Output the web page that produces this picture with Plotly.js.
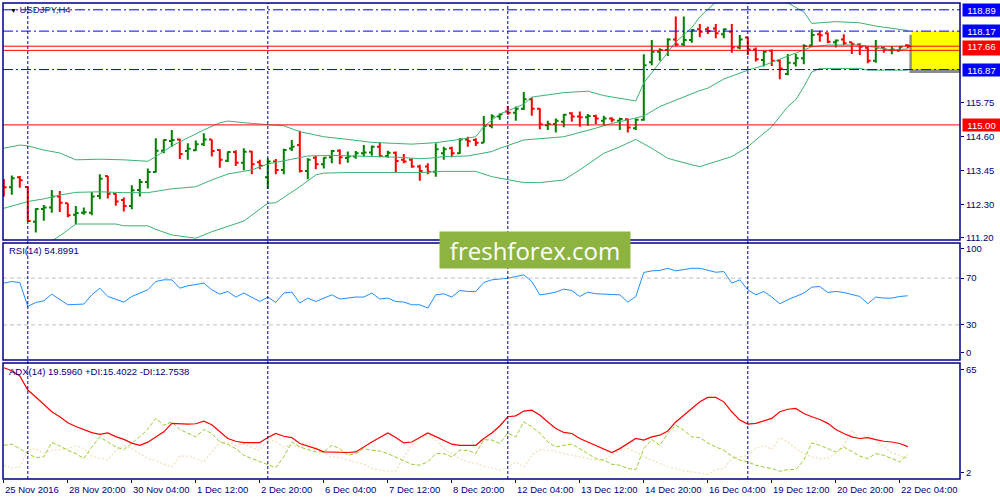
<!DOCTYPE html>
<html>
<head>
<meta charset="utf-8">
<script src="https://cdn.plot.ly/plotly-3.0.1.min.js"></script>
<style>
  html, body { margin: 0; padding: 0; background: #fff; }
  #chart { width: 1000px; height: 500px; }
</style>
</head>
<body>
<div id="chart"></div>
<script>
// USDJPY H4 bars (bar 0 = 25 Nov 2016 12:00)
const opens  = [113.11,112.89,113.23,112.90,111.73,112.16,112.21,112.58,112.35,111.96,
                112.03,112.03,112.60,113.27,112.67,112.46,112.26,112.80,113.07,113.41,
                114.13,114.46,114.51,114.12,114.14,114.35,114.51,114.15,113.79,114.08,
                113.72,114.10,113.74,113.23,113.76,113.48,114.20,114.32,113.44,113.89,
                113.67,113.91,114.13,113.88,113.93,114.04,114.07,114.26,113.95,114.06,
                113.82,113.82,113.59,113.59,113.42,114.04,114.21,114.04,114.51,114.49,
                114.40,114.96,115.28,115.45,115.41,115.55,115.87,115.55,114.99,115.03,
                115.11,115.39,115.28,115.26,115.30,115.14,115.22,115.14,115.19,114.89,
                115.17,117.12,117.47,117.53,117.89,117.73,117.87,118.23,118.23,118.26,
                118.06,118.15,117.62,117.95,117.55,117.19,117.51,117.17,116.72,117.08,
                117.25,117.68,118.06,118.10,117.79,117.89,117.79,117.72,117.61,117.17,
                117.61,117.53,117.51,117.69];
const highs  = [113.17,113.29,113.27,112.92,112.18,112.29,112.80,112.77,112.35,112.26,
                112.21,112.73,113.33,113.27,112.69,112.55,112.96,113.17,113.53,114.55,
                114.51,114.83,114.53,114.38,114.47,114.72,114.51,114.18,114.10,114.14,
                114.21,114.12,113.82,113.87,113.85,114.19,114.49,114.80,113.87,113.95,
                113.91,114.15,114.18,114.10,114.12,114.32,114.30,114.41,114.13,114.10,
                114.02,113.87,113.65,113.70,114.38,114.26,114.26,114.55,114.60,114.55,
                115.30,115.36,115.39,115.64,115.62,116.11,115.93,115.56,115.14,115.22,
                115.37,115.43,115.45,115.37,115.34,115.31,115.26,115.24,115.22,115.22,
                117.39,117.87,117.59,117.93,118.66,118.66,118.23,118.41,118.32,118.41,
                118.26,118.41,118.04,117.96,117.62,117.51,117.55,117.22,117.40,117.40,
                117.73,118.23,118.18,118.12,117.89,118.06,117.79,117.76,117.64,117.87,
                117.64,117.67,117.67,117.73];
const lows   = [112.58,112.64,112.88,111.73,111.36,111.76,112.03,112.06,111.88,111.64,
                111.96,111.95,112.49,112.51,112.27,112.07,112.15,112.58,112.85,113.39,
                114.04,114.26,113.85,113.82,114.12,114.29,113.93,113.55,113.75,113.61,
                113.47,113.33,113.50,112.83,113.33,113.33,114.12,113.39,113.16,113.50,
                113.53,113.70,113.67,113.72,113.86,113.93,113.96,113.91,113.89,113.41,
                113.70,113.55,113.11,113.33,113.25,113.82,113.91,114.02,114.26,114.29,
                114.40,114.89,115.17,115.34,115.14,115.50,115.31,114.85,114.83,114.74,
                114.92,115.11,114.94,114.97,115.03,114.99,115.09,114.83,114.74,114.83,
                115.14,117.02,117.17,117.33,117.67,117.67,117.78,117.96,118.07,117.93,
                117.93,117.44,117.56,117.36,117.14,116.97,116.99,116.54,116.68,116.97,
                117.05,117.64,117.81,117.76,117.62,117.70,117.40,117.36,117.08,117.10,
                117.44,117.39,117.50,117.59];
const closes = [112.89,113.20,113.13,111.75,112.16,112.21,112.58,112.37,111.95,112.02,
                112.05,112.58,113.18,112.67,112.41,112.26,112.79,113.07,113.41,114.13,
                114.49,114.49,114.02,114.19,114.35,114.51,114.12,113.82,114.08,113.72,
                114.09,113.67,113.62,113.76,113.48,114.15,114.26,113.44,113.82,113.67,
                113.89,114.12,113.91,113.93,114.04,114.07,114.26,113.95,114.06,113.78,
                113.76,113.59,113.44,113.42,114.18,114.18,114.04,114.51,114.45,114.40,
                114.96,115.28,115.36,115.41,115.55,115.87,115.55,115.02,115.03,115.14,
                115.34,115.28,115.26,115.30,115.22,115.22,115.17,115.20,114.91,115.17,
                117.02,117.47,117.53,117.89,117.72,117.87,118.21,118.15,118.17,118.10,
                118.23,117.62,117.89,117.55,117.22,117.47,117.17,116.91,117.10,117.25,
                117.67,118.04,118.03,117.81,117.85,117.76,117.73,117.64,117.17,117.61,
                117.55,117.55,117.64,117.66];

// Bollinger bands (20): bar index / price at the visible vertices
const bbUpIdx  = [0,2,3,5,7,9,12,15,18,19,21,25,27,28,31,33,35,37,40,43,46,51,54,57,59,
                  60,62,65,66,70,73,75,77,79,80,82,84,86,87,89,90,91,92,93,94,95,96,97,98,
                  100,101,104,107,109,112,113];
const bbUpVal  = [114.21,114.32,114.29,114.15,114.05,113.82,113.84,113.82,113.77,113.93,
                  114.29,114.83,115.07,115.13,115.05,115.01,114.97,114.77,114.60,114.51,
                  114.41,114.35,114.40,114.51,114.60,114.94,115.37,115.70,115.94,116.09,
                  116.14,115.99,115.90,115.81,116.42,117.13,117.80,118.29,118.65,119.15,
                  119.23,119.36,119.43,119.44,119.35,119.25,119.20,119.16,119.12,118.82,
                  118.43,118.49,118.45,118.34,118.21,118.19];
const bbMidIdx = [0,3,5,7,9,12,15,18,21,24,26,28,31,33,36,38,41,45,49,52,53,55,58,61,62,
                  65,70,74,76,78,80,82,85,87,88,90,93,95,97,100,101,103,107,109,111,113];
const bbMidVal = [112.18,112.41,112.50,112.63,112.72,112.74,112.71,112.71,112.84,112.91,
                  113.14,113.34,113.48,113.68,113.84,113.95,113.97,113.95,113.91,113.86,
                  113.87,113.93,113.95,114.10,114.21,114.49,114.60,114.89,115.05,115.17,
                  115.30,115.62,115.95,116.16,116.24,116.55,116.85,117.01,117.22,117.53,
                  117.64,117.70,117.70,117.62,117.53,117.57];
const bbLowIdx = [0,3,6,7,9,14,15,18,19,21,24,26,30,33,34,37,39,40,43,52,55,59,61,65,67,
                  70,72,75,77,79,81,83,86,87,91,93,94,96,98,99,100,101,102,107,108,113];
const bbLowVal = [110.72,110.84,111.08,111.25,111.65,111.65,111.59,111.59,111.47,111.28,
                  111.17,111.39,111.75,112.35,112.37,112.91,113.31,113.37,113.39,113.39,
                  113.43,113.43,113.25,113.05,113.05,113.14,113.48,114.04,114.26,114.51,
                  114.21,113.87,113.65,113.59,113.93,114.26,114.49,114.94,115.62,115.85,
                  116.29,116.79,116.91,116.91,116.85,116.85];

// RSI(14), ADX(14), +DI, -DI per bar
const rsi = [65.7,67.1,66.2,45.8,49.2,50.6,56.3,52.1,47.2,47.5,
             47.8,55.7,61.4,54.3,52.1,49.5,54.3,57.2,60.0,67.1,
             68.5,68.5,61.4,63.4,64.3,65.7,60.0,56.3,58.6,53.8,
             57.2,53.8,50.0,53.8,49.2,57.2,58.0,48.7,52.9,50.0,
             52.9,55.7,52.1,52.9,53.8,53.8,57.2,52.1,52.9,50.0,
             49.5,47.2,47.2,44.4,55.7,56.6,53.8,59.4,58.6,58.6,
             66.2,68.5,69.1,69.9,71.3,72.8,67.1,55.7,56.6,58.0,
             60.6,59.4,54.3,58.0,56.6,56.3,55.7,55.7,49.5,54.3,
             74.8,76.2,76.5,78.4,76.2,77.0,78.4,78.4,77.0,75.0,
             75.6,65.7,68.5,60.0,55.7,58.6,53.8,48.1,51.5,54.3,
             57.2,62.3,62.8,57.7,58.6,57.7,55.7,54.3,48.1,53.8,
             52.9,52.9,54.3,54.9];
const adx = [62.4,60.8,58.0,50.3,46.5,42.5,38.5,35.8,32.5,30.5,
             28.8,27.2,26.2,27.0,25.0,23.5,21.5,20.3,22.0,25.0,
             27.6,32.2,31.8,31.8,32.0,33.4,31.5,28.0,24.0,22.5,
             21.8,21.8,21.8,24.5,26.7,25.2,24.5,21.3,20.0,18.5,
             16.7,16.5,16.5,16.4,16.7,19.5,22.1,24.5,27.0,24.5,
             21.6,22.1,24.5,27.0,25.0,23.1,20.9,20.3,20.3,20.3,
             24.0,27.0,30.8,35.8,36.3,38.9,39.4,36.7,33.0,29.4,
             27.3,26.7,24.0,22.1,20.3,18.5,16.4,18.5,21.3,24.0,
             23.1,24.9,25.8,28.1,33.0,36.7,40.3,43.9,46.3,46.3,
             43.9,38.5,34.0,31.8,32.2,33.6,34.9,38.5,39.9,40.3,
             37.6,35.8,34.3,32.2,28.9,26.7,24.9,24.0,24.5,23.4,
             22.5,22.1,21.3,19.6];
const plusDI = [20.3,20.9,18.5,15.8,13.6,14.0,21.8,20.0,17.6,15.8,
                13.1,19.4,24.9,22.1,19.4,18.0,21.3,24.9,29.1,34.9,
                31.2,33.0,28.9,26.7,24.9,28.9,26.7,22.1,20.9,18.5,
                14.9,13.1,11.3,9.8,8.2,14.0,22.1,19.4,18.0,16.7,
                16.7,20.3,18.5,14.9,15.8,18.5,17.6,17.2,15.8,14.0,
                12.2,10.0,9.5,11.3,15.8,15.8,14.0,17.6,17.6,15.8,
                23.4,23.1,21.3,27.0,24.9,33.0,30.3,27.0,22.1,19.4,
                20.3,20.9,18.5,15.8,13.1,12.2,10.0,9.5,7.7,7.1,
                18.5,23.4,20.3,26.7,31.2,28.5,24.9,24.5,21.6,19.4,
                17.6,14.4,12.2,11.3,9.5,8.5,7.7,6.2,7.1,7.1,
                12.2,21.6,20.3,18.5,16.7,19.4,16.7,14.4,13.1,15.8,
                14.9,13.1,11.3,15.4];
const minusDI = [9.5,8.0,8.5,17.6,18.5,15.8,17.6,18.0,18.5,20.0,
                 18.5,14.4,13.1,12.2,17.6,20.0,18.5,15.8,13.1,11.9,
                 10.4,8.5,14.4,14.4,13.1,11.3,16.7,22.1,22.1,20.3,
                 20.9,19.4,17.6,23.4,22.1,19.4,20.3,19.4,21.6,19.4,
                 15.8,14.0,13.6,12.2,11.3,10.0,7.7,6.8,6.2,6.4,
                 14.0,20.3,23.9,26.2,23.1,18.5,15.8,13.1,11.3,10.4,
                 9.0,7.7,6.8,8.5,11.3,8.5,14.9,18.0,17.6,17.2,
                 15.8,14.9,14.4,13.1,12.2,12.2,14.9,17.6,18.5,16.7,
                 14.0,12.2,10.4,8.5,7.7,6.4,5.9,5.0,4.5,7.1,
                 7.7,13.1,14.0,14.9,18.5,20.3,18.0,24.5,22.1,18.5,
                 15.8,14.0,13.1,13.1,15.8,20.3,28.5,23.4,25.8,23.1,
                 19.4,16.1,14.9,12.75];

// time axis labels (every 8 bars) and weekly separators
const timeTickIdx = [0,8,16,24,32,40,48,56,64,72,80,88,96,104,112];
const timeTickText = ['25 Nov 2016','28 Nov 20:00','30 Nov 04:00','1 Dec 12:00','2 Dec 20:00',
                      '6 Dec 04:00','7 Dec 12:00','8 Dec 20:00','12 Dec 04:00','13 Dec 12:00',
                      '14 Dec 20:00','16 Dec 04:00','19 Dec 12:00','20 Dec 20:00','22 Dec 04:00'];
const weekStartIdx = [3,33,63,93];

// price axis and drawn levels
const priceTicks = [115.75,114.60,113.45,112.30,111.20];
const blueLevels = [118.89,118.17,116.87];
const redLevels  = [115.00,117.52,117.66];
const zoneLevels = [116.87,118.17];
const zoneFrom = 113.5;
const rsiLevels = [30,70];

const NAVY = '#000080';
const FONT = 'Liberation Sans, Arial, sans-serif';
const barIdx = closes.map((_, i) => i);

const traces = [
  {
    type: 'ohlc', x: barIdx, open: opens, high: highs, low: lows, close: closes,
    xaxis: 'x', yaxis: 'y', tickwidth: 0.35, hoverinfo: 'skip',
    increasing: { line: { color: '#008000', width: 2 } },
    decreasing: { line: { color: '#FF0000', width: 2 } }
  },
  { type: 'scatter', mode: 'lines', x: bbUpIdx, y: bbUpVal, yaxis: 'y', line: { color: '#3CB371', width: 1 } },
  { type: 'scatter', mode: 'lines', x: bbMidIdx, y: bbMidVal, yaxis: 'y', line: { color: '#3CB371', width: 1 } },
  { type: 'scatter', mode: 'lines', x: bbLowIdx, y: bbLowVal, yaxis: 'y', line: { color: '#3CB371', width: 1 } },
  { type: 'scatter', mode: 'lines', x: barIdx, y: rsi, yaxis: 'y2', line: { color: '#1E90FF', width: 1 } },
  { type: 'scatter', mode: 'lines', x: barIdx, y: minusDI, yaxis: 'y3', line: { color: '#F5DEB3', width: 1.2, dash: '2px,2px' } },
  { type: 'scatter', mode: 'lines', x: barIdx, y: plusDI, yaxis: 'y3', line: { color: '#9ACD32', width: 1, dash: '4px,2px' } },
  { type: 'scatter', mode: 'lines', x: barIdx, y: adx, yaxis: 'y3', line: { color: '#FF0000', width: 1.2 } }
];

const shapes = [];
// yellow zone with its shadow
shapes.push({ type: 'rect', xref: 'x', yref: 'y', x0: zoneFrom - 0.3, x1: 119.6,
  y0: zoneLevels[0] - 0.12, y1: zoneLevels[1] - 0.12, fillcolor: 'rgba(0,0,0,0.45)', line: { width: 0 }, layer: 'above' });
shapes.push({ type: 'rect', xref: 'x', yref: 'y', x0: zoneFrom, x1: 119.6,
  y0: zoneLevels[0], y1: zoneLevels[1], fillcolor: '#FFFF00', line: { width: 0 }, layer: 'above' });
blueLevels.forEach(v => shapes.push({ type: 'line', xref: 'paper', yref: 'y', x0: 0, x1: 1, y0: v, y1: v,
  line: { color: '#0000FF', width: 1, dash: '10px,3px,2px,3px' } }));
redLevels.forEach(v => shapes.push({ type: 'line', xref: 'paper', yref: 'y', x0: 0, x1: 1, y0: v, y1: v,
  line: { color: '#FF0000', width: 1 } }));
rsiLevels.forEach(v => shapes.push({ type: 'line', xref: 'paper', yref: 'y2', x0: 0, x1: 1, y0: v, y1: v,
  line: { color: '#C0C0C0', width: 1, dash: '4px,3px' } }));
weekStartIdx.forEach(i => shapes.push({ type: 'line', xref: 'x', yref: 'paper', x0: i, x1: i, y0: 0, y1: 1,
  line: { color: NAVY, width: 1, dash: '3px,2px' } }));
['y domain', 'y2 domain', 'y3 domain'].forEach(r => shapes.push({ type: 'rect', xref: 'paper', yref: r,
  x0: 0, x1: 1, y0: 0, y1: 1, line: { color: NAVY, width: 1.5 }, fillcolor: 'rgba(0,0,0,0)' }));

const annotations = [];
function priceBox(v, text, bg, h, valign) {
  annotations.push({ xref: 'paper', yref: 'y', x: 1, y: v, xanchor: 'left', yanchor: 'middle', xshift: 2,
    text: text, showarrow: false, bgcolor: bg, width: 37, height: h || 12, borderpad: 0,
    valign: valign || 'middle', font: { family: FONT, size: 9.5, color: '#FFFFFF' } });
}
priceBox(118.89, '118.89', '#0000FF');
priceBox(118.17, '118.17', '#0000FF');
priceBox(116.87, '116.87', '#0000FF');
priceBox(117.60, '117.66', '#FF0000', 14, 'top');
priceBox(115.00, '115.00', '#FF0000');

// time labels start at their tick, as in the terminal
timeTickIdx.forEach((i, k) => annotations.push({ xref: 'x', yref: 'paper', x: i, y: 0,
  xanchor: 'left', yanchor: 'top', xshift: -1, yshift: -3, showarrow: false,
  text: timeTickText[k], font: { family: FONT, size: 9.5, color: NAVY } }));

annotations.push({ xref: 'paper', yref: 'paper', x: 0.005, y: 0.9853, xanchor: 'left', yanchor: 'middle',
  showarrow: false, text: '<span style="font-size:7px;color:#000">▼</span> USDJPY,H4',
  font: { family: FONT, size: 9.5, color: '#1a1a6e' } });
annotations.push({ xref: 'paper', yref: 'paper', x: 0.004, y: 0.479, xanchor: 'left', yanchor: 'middle',
  showarrow: false, text: 'RSI(14) 54.8991', font: { family: FONT, size: 9.5, color: NAVY } });
annotations.push({ xref: 'paper', yref: 'paper', x: 0.004, y: 0.2248, xanchor: 'left', yanchor: 'middle',
  showarrow: false, text: 'ADX(14) 19.5960 +DI:15.4022 -DI:12.7538', font: { family: FONT, size: 9.5, color: NAVY } });
annotations.push({ xref: 'paper', yref: 'paper', x: 0.5559, y: 0.4811, xanchor: 'center', yanchor: 'middle',
  showarrow: false, text: 'freshforex.com', bgcolor: '#8DB441', width: 190, height: 36, borderpad: 0,
  font: { family: 'Open Sans, sans-serif', size: 24, color: '#FFFFFF' } });

const axisFont = { family: FONT, size: 9.5, color: NAVY };
const yCommon = { side: 'right', anchor: 'x', showgrid: false, zeroline: false, showline: false,
  ticks: 'outside', ticklen: 3, tickcolor: NAVY, tickfont: axisFont, fixedrange: true };

const layout = {
  width: 1000, height: 500,
  margin: { l: 3, r: 40, t: 3, b: 21 },
  paper_bgcolor: '#FFFFFF', plot_bgcolor: '#FFFFFF',
  showlegend: false, hovermode: false,
  font: { family: FONT, color: NAVY },
  xaxis: {
    domain: [0, 1], anchor: 'y3', range: [-0.1, 119.525],
    tickmode: 'array', tickvals: timeTickIdx, showticklabels: false,
    ticks: 'outside', ticklen: 3, tickcolor: NAVY,
    showgrid: false, zeroline: false, showline: false,
    rangeslider: { visible: false }, fixedrange: true
  },
  yaxis: Object.assign({}, yCommon, { domain: [0.5021, 1], range: [111.11, 119.12],
    tickmode: 'array', tickvals: priceTicks, ticktext: priceTicks.map(v => v.toFixed(2)) }),
  yaxis2: Object.assign({}, yCommon, { domain: [0.25, 0.4958], range: [0, 100],
    tickmode: 'array', tickvals: [94.9, 70, 30, 6], ticktext: ['100', '70', '30', '0'] }),
  yaxis3: Object.assign({}, yCommon, { domain: [0, 0.2437], range: [2, 65],
    tickmode: 'array', tickvals: [61.2, 5.6], ticktext: ['65', '2'] }),
  shapes: shapes,
  annotations: annotations
};

Plotly.newPlot('chart', traces, layout, { displayModeBar: false, staticPlot: true });
</script>
</body>
</html>
